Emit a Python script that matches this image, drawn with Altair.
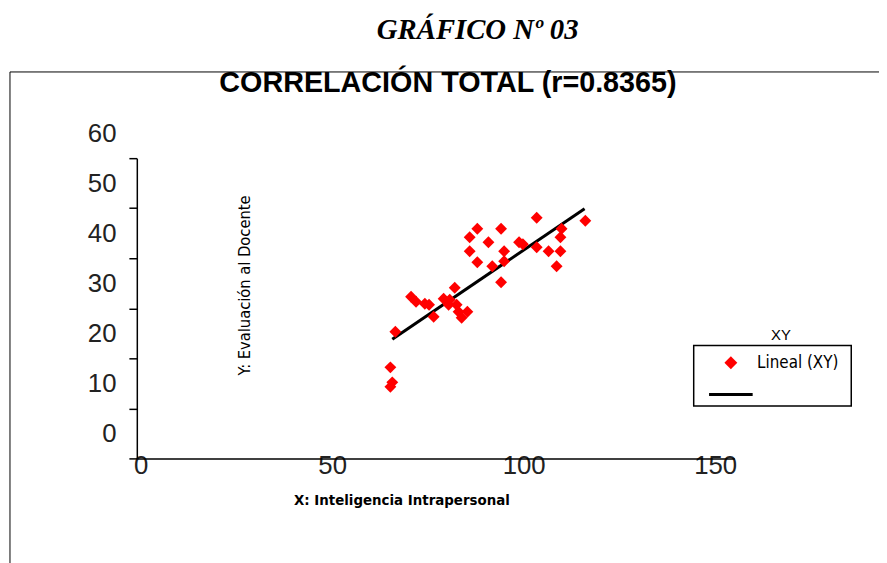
import altair as alt
import pandas as pd

# ---- data ----
x_intra = [65.2, 65.7, 65.2, 66.5, 70.6, 71.9, 74.2, 75.3, 76.5, 79.1, 80.4, 80.7, 82.0, 82.5, 83.0, 83.8, 85.3,
           85.9, 87.9, 85.9, 87.9, 90.8, 94.1, 94.9, 94.9, 91.8, 94.1, 98.8, 99.8, 103.4, 103.4, 106.5, 109.6,
           109.6, 109.9, 108.6, 116.1]
y_eval = [18.2, 15.2, 14.3, 25.3, 32.3, 31.3, 30.9, 30.7, 28.3, 31.9, 30.7, 31.7, 34.1, 30.7, 29.3, 28.1, 29.3,
          44.2, 45.9, 41.4, 39.2, 43.2, 45.9, 41.4, 39.4, 38.4, 35.2, 43.2, 42.8, 48.1, 42.2, 41.4, 41.4,
          44.2, 45.9, 38.4, 47.5]
fit_x = [65.7, 115.9]
fit_y = [23.8, 49.9]
x_ticks = [0, 50, 100, 150]
y_ticks = [0, 10, 20, 30, 40, 50, 60]
series = ["Lineal (XY)", " "]

pts = pd.DataFrame({"x": x_intra, "y": y_eval, "serie": series[0]})
fit = pd.DataFrame({"x": fit_x, "y": fit_y})
one = pd.DataFrame({"k": [0]})

NARROW = "Liberation Sans Narrow, Arial Narrow, DejaVu Sans Condensed, sans-serif"
SANS = "Liberation Sans, Arial, sans-serif"

diamond = "M0,-1.3L1.3,0L0,1.3L-1.3,0Z"
bar = "M-4.4,-0.3L4.4,-0.3L4.4,0.3L-4.4,0.3Z"

xscale = alt.Scale(domain=[-1, 155], nice=False, zero=False)
yscale = alt.Scale(domain=[0, 60], nice=False)

xaxis = alt.Axis(values=x_ticks, tickSize=0, labelFontSize=26, labelFont=SANS, labelColor="#222",
                 labelPadding=-6, labelFlush=False, domainColor="black", domainWidth=1.5, grid=False,
                 title="X: Inteligencia Intrapersonal", titleFont=NARROW, titleFontSize=15,
                 titleFontWeight="bold", titleColor="black", titleX=267, titleY=42,
                 titleAlign="center", titleBaseline="middle")
yaxis = alt.Axis(values=y_ticks, tickSize=8, tickColor="black", tickWidth=1.5, labelFontSize=26,
                 labelFont=SANS, labelColor="#222", labelPadding=13, labelOffset=-25,
                 domainColor="black", domainWidth=1.5, grid=False,
                 title="Y: Evaluación al Docente", titleFont=NARROW, titleFontSize=16.5,
                 titleFontWeight="normal", titleColor="black", titleAngle=270, titleX=109, titleY=128,
                 titleAlign="center", titleBaseline="middle")

points = alt.Chart(pts).mark_point(filled=True, size=85, opacity=1).encode(
    x=alt.X("x:Q", scale=xscale, axis=xaxis),
    y=alt.Y("y:Q", scale=yscale, axis=yaxis),
    color=alt.Color("serie:N", scale=alt.Scale(domain=series, range=["#ff0000", "#000000"]),
                    legend=alt.Legend(title="XY", orient="none", legendX=591, legendY=172, padding=0,
                                      symbolSize=100, symbolStrokeWidth=0, labelOffset=18,
                                      rowPadding=14, titlePadding=11, titleFont=SANS,
                                      titleFontSize=15, titleFontWeight="normal", titleColor="black",
                                      titleAnchor="middle", labelFont=NARROW, labelFontSize=17,
                                      labelColor="black")),
    shape=alt.Shape("serie:N", scale=alt.Scale(domain=series, range=[diamond, bar])),
)

line = alt.Chart(fit).mark_line(color="black", strokeWidth=3).encode(x="x:Q", y="y:Q")

legend_box = alt.Chart(one).mark_rect(filled=False, stroke="black", strokeWidth=1.5).encode(
    x=alt.value(562), x2=alt.value(721), y=alt.value(189), y2=alt.value(250))
frame = alt.Chart(one).mark_rect(filled=False, stroke="black", strokeWidth=1).encode(
    x=alt.value(-128), x2=alt.value(770), y=alt.value(-87), y2=alt.value(430))
heading = alt.Chart(one).mark_text(font="Liberation Serif, Times New Roman, serif", fontSize=29,
                                   fontWeight="bold", fontStyle="italic", color="black",
                                   baseline="middle", align="center").encode(
    x=alt.value(344), y=alt.value(-129), text=alt.value("GRÁFICO Nº 03"))
subheading = alt.Chart(one).mark_text(font=SANS, fontSize=29, fontWeight="bold", color="black",
                                      baseline="middle", align="center").encode(
    x=alt.value(314), y=alt.value(-76), text=alt.value("CORRELACIÓN TOTAL (r=0.8365)"))

chart = alt.layer(frame, legend_box, line, points, heading, subheading).properties(
    width=603, height=303,
    autosize=alt.AutoSizeParams(type="none"),
    padding={"left": 130, "top": 149, "right": 146, "bottom": 103},
).configure_view(strokeWidth=0, stroke="transparent")

chart.save("out.html", embed_options={"renderer": "svg", "actions": False})
